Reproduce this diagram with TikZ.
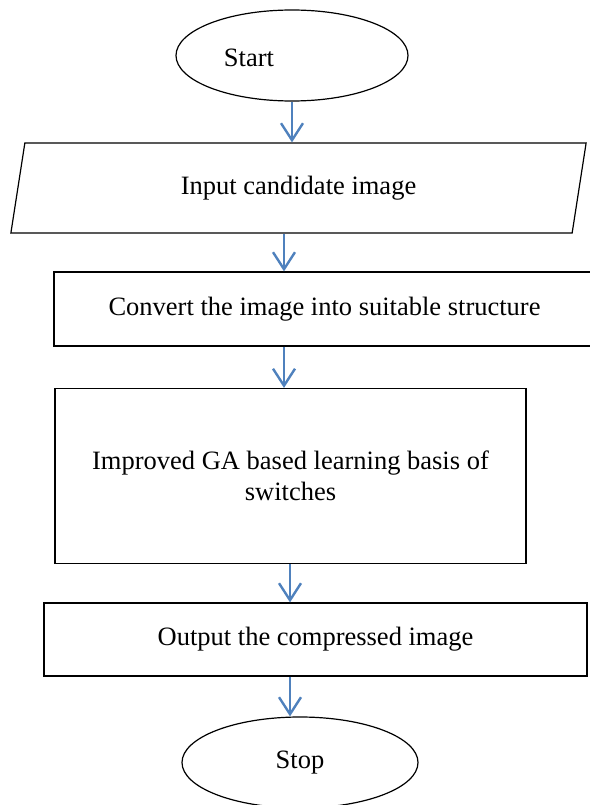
\documentclass[tikz,border=0pt]{standalone}
\usepackage{fontspec}
\setmainfont{Liberation Serif}
\usetikzlibrary{shapes.geometric,arrows.meta}
\definecolor{flowblue}{RGB}{79,129,189}

\begin{document}
\begin{tikzpicture}[x=1pt,y=-1pt,font=\fontsize{26.5}{31}\selectfont]
      \tikzstyle{term}=[ellipse,draw,line width=1.2pt,inner sep=0pt]
      \tikzstyle{proc}=[rectangle,draw,line width=1.2pt,align=center,inner sep=0pt]
      \tikzstyle{io}=[trapezium,draw,line width=1.2pt,trapezium left angle=76,
        trapezium right angle=104,trapezium stretches=true,inner sep=0pt]
      \tikzstyle{flow}=[draw=flowblue,line width=2.4pt,-{Straight Barb[length=17pt,width=22pt,line width=2.4pt]}]
      \useasboundingbox (0,0) rectangle (589,805);
      \node[term,minimum width=232,minimum height=91] at (292,55.5) (start) {};
      \node at (249,58) (starttxt) {Start};
      \node[io,minimum width=577,minimum height=90] at (298.5,188) (in) {Input candidate image};
      \node[proc,minimum width=541,minimum height=74] at (324.5,309) (conv) {Convert the image into suitable structure};
      \node[proc,minimum width=471,minimum height=175] at (290.5,476) (impr)
        {Improved GA based learning basis of\\ switches};
      \node[proc,minimum width=543,minimum height=73] at (315.5,639.5) (out) {Output the compressed image};
      \node[term,minimum width=236,minimum height=91] at (300,762.5) (stop) {Stop};
      \foreach \a/\b/\x in {start/in/292,in/conv/284,conv/impr/284,impr/out/290,out/stop/290}{
        \draw[flow] (\x,0 |- \a.south) -- (\x,0 |- \b.north);
      }
    \end{tikzpicture}
\end{document}
